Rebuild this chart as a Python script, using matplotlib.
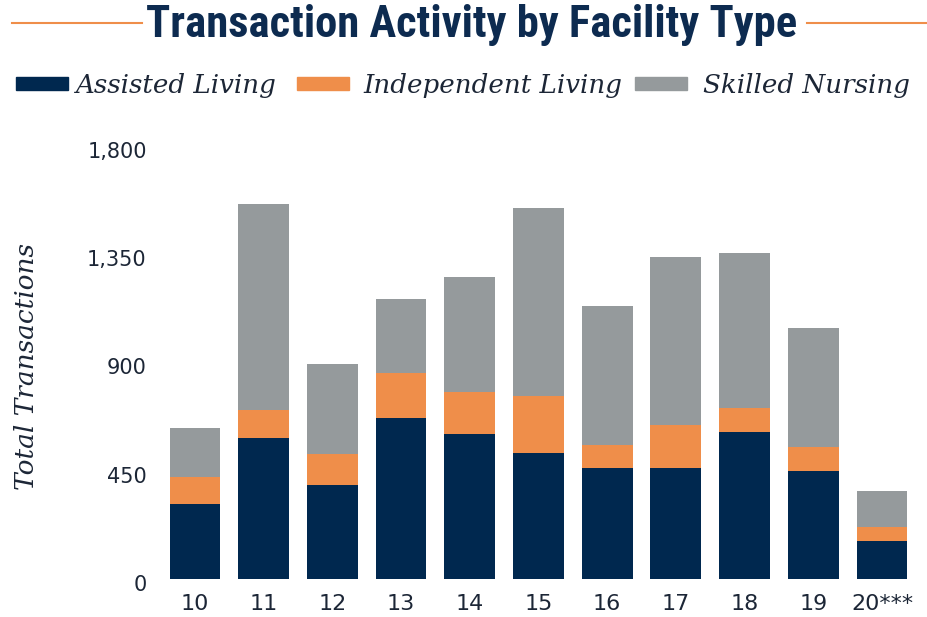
import matplotlib.pyplot as plt
from matplotlib import font_manager as fm
from matplotlib import transforms
from matplotlib.lines import Line2D
from matplotlib.patches import Rectangle
import numpy as np

years = ["10", "11", "12", "13", "14", "15", "16", "17", "18", "19", "20***"]
assisted = [312, 586, 391, 669, 603, 524, 461, 461, 611, 449, 158]
independent = [112, 116, 129, 187, 174, 237, 96, 179, 100, 100, 58]
skilled = [204, 857, 374, 308, 478, 781, 578, 698, 644, 494, 150]
series_names = ["Assisted Living", "Independent Living", "Skilled Nursing"]

NAVY = "#00284f"
ORANGE = "#ef8e4a"
GRAY = "#959a9c"
TEXT = "#1c2636"
TITLE = "#0d2b50"

W, H = 928, 617


def fx(px):
    return px / W


def fy(py):
    return 1 - py / H


def condensed_bold():
    # look for any narrow / condensed bold sans that happens to be installed
    prefs = ["Roboto Condensed", "Open Sans Condensed", "DejaVu Sans Condensed",
             "Liberation Sans Narrow", "Noto Sans", "DejaVu Sans", "Open Sans", "Roboto"]
    found = []
    for f in fm.fontManager.ttflist:
        fname = f.fname.lower()
        narrow = ("condensed" in fname or "narrow" in fname or
                  f.stretch in ("condensed", "semi-condensed", "extra-condensed"))
        if not narrow or f.style != "normal":
            continue
        if "serif" in f.name.lower() or "mono" in f.name.lower():
            continue
        if f.weight not in (700, "bold"):
            continue
        rank = len(prefs)
        for i, p in enumerate(prefs):
            if f.name.startswith(p):
                rank = i
                break
        found.append((rank, f.fname))
    if found:
        found.sort()
        return fm.FontProperties(fname=found[0][1])
    return fm.FontProperties(family="DejaVu Sans", weight="bold")


fig = plt.figure(figsize=(9.28, 6.17), dpi=100)
ax = fig.add_axes([fx(160.6), fy(579), 755.7 / W, 433 / H])

x = np.arange(len(years))
al = np.array(assisted)
il = np.array(independent)
sn = np.array(skilled)
w = 0.74
ax.bar(x, al, w, color=NAVY)
ax.bar(x, il, w, bottom=al, color=ORANGE)
ax.bar(x, sn, w, bottom=al + il, color=GRAY)

ax.set_xlim(-0.5, len(years) - 0.5)
ax.set_ylim(0, 1800)
ax.set_yticks([0, 450, 900, 1350, 1800])
ax.set_yticklabels(["0", "450", "900", "1,350", "1,800"])
ax.set_xticks(x)
ax.set_xticklabels(years)
for s in ax.spines.values():
    s.set_visible(False)
ax.tick_params(length=0, labelcolor=TEXT)
ax.tick_params(axis="y", pad=10, labelsize=15)
ax.tick_params(axis="x", pad=11, labelsize=16)
# y labels sit a few pixels low in the original
shift = transforms.ScaledTranslation(0, -4 / 100, fig.dpi_scale_trans)
for lab in ax.get_yticklabels():
    lab.set_transform(lab.get_transform() + shift)

serif_it = {"family": "DejaVu Serif", "style": "italic"}
fig.text(fx(27), fy(367), "Total Transactions", rotation=90, ha="center", va="center",
         fontsize=19, color=TEXT, **serif_it)

# title, squeezed to the width it has in the original
tprop = condensed_bold()
title = fig.text(fx(472), fy(37), "Transaction Activity by Facility Type", ha="center",
                 va="baseline", fontproperties=tprop, fontsize=30, color=TITLE)
r = fig.canvas.get_renderer()
tw = title.get_window_extent(r).width
title.set_fontsize(30 * 651 / tw)
fig.add_artist(Line2D([fx(12), fx(142)], [fy(23)] * 2, color=ORANGE, lw=1.5))
fig.add_artist(Line2D([fx(807), 1.0], [fy(23)] * 2, color=ORANGE, lw=1.5))

# legend row
patch_x = [16, 297, 635]
label_x = [76, 363, 703]
for px, lx, c, name in zip(patch_x, label_x, [NAVY, ORANGE, GRAY], series_names):
    fig.add_artist(Rectangle((fx(px), fy(90)), 52 / W, 13 / H, color=c, transform=fig.transFigure))
    fig.text(fx(lx), fy(93), name, ha="left", va="baseline", fontsize=18.8, color=TEXT, **serif_it)

fig.savefig("out.png", dpi=100)
